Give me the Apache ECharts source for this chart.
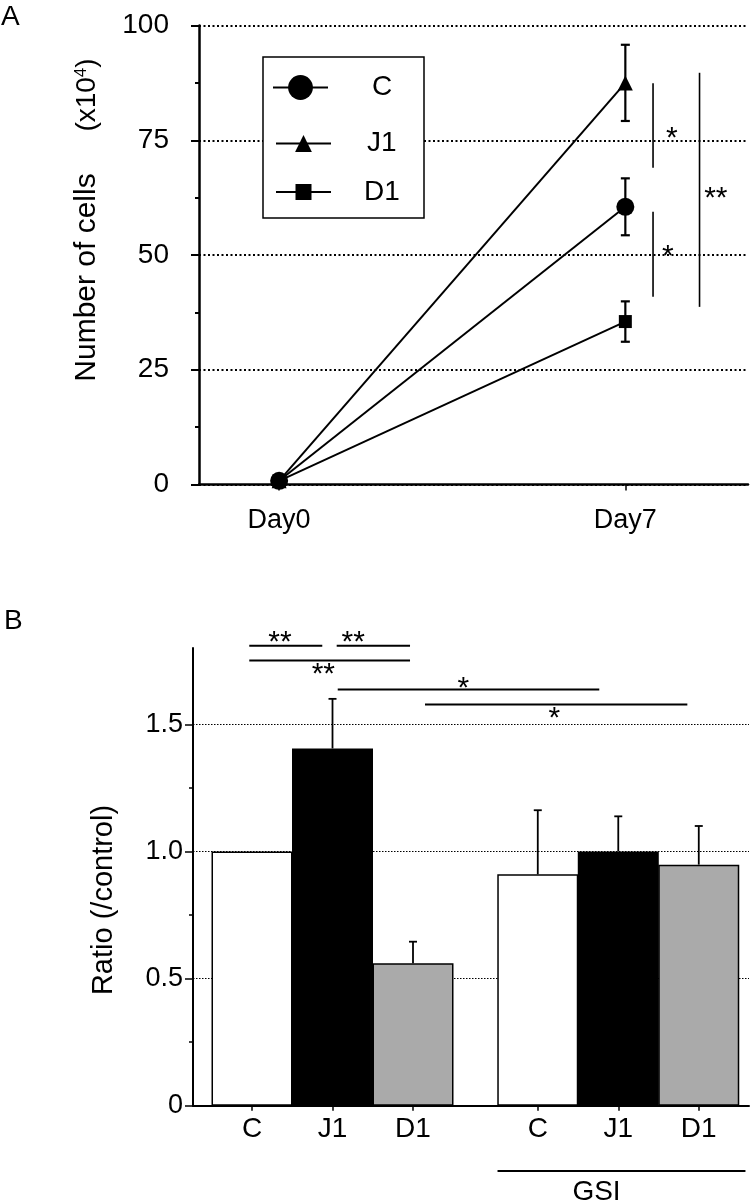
<!DOCTYPE html>
<html><head><meta charset="utf-8">
<script src="https://cdn.jsdelivr.net/npm/echarts@6/dist/echarts.min.js"></script>
<style>html,body{margin:0;padding:0;background:#fff}#c{width:750px;height:1202px}</style>
</head><body><div id="c"></div>
<script>
// ---------- Panel A data ----------
const daysA = [0, 7];
const dayLabelsA = ['Day0', 'Day7'];
const groupsA = ['C', 'J1', 'D1'];
const cellsC = [0.8, 60.5];
const cellsJ1 = [0.8, 87.5];
const cellsD1 = [0.8, 35.5];
const errC = [0, 6.2];
const errJ1 = [0, 8.3];
const errD1 = [0, 4.4];
const yTicksA = [0, 25, 50, 75, 100];

// ---------- Panel B data ----------
const barCats = ['C', 'J1', 'D1', 'C', 'J1', 'D1'];
const ratio = [1.0, 1.405, 0.56, 0.91, 1.0, 0.948];
const ratioErr = [0, 0.195, 0.085, 0.252, 0.138, 0.152];
const yTicksB = [0, 0.5, 1.0, 1.5];
const yMinorB = [0.25, 0.75, 1.25];

// ---------- significance annotations (data coordinates) ----------
const sigA = [
  { x1: 7.56, y1: 87.4, x2: 7.56, y2: 69.0, label: '*', lx: 7.94, ly: 76.9 },
  { x1: 7.56, y1: 59.4, x2: 7.56, y2: 40.9, label: '*', lx: 7.86, ly: 51.1 },
  { x1: 8.50, y1: 89.7, x2: 8.50, y2: 38.7, label: '**', lx: 8.83, ly: 63.9 }
];
const sigB = [
  { x1: 0.966, y1: 1.809, x2: 1.873, y2: 1.809, label: '**', lx: 1.348, ly: 1.849 },
  { x1: 2.052, y1: 1.809, x2: 2.963, y2: 1.809, label: '**', lx: 2.258, ly: 1.849 },
  { x1: 0.966, y1: 1.751, x2: 2.963, y2: 1.751, label: '**', lx: 1.886, ly: 1.725 },
  { x1: 2.065, y1: 1.637, x2: 5.314, y2: 1.637, label: '*', lx: 3.625, ly: 1.670 },
  { x1: 3.149, y1: 1.578, x2: 6.408, y2: 1.578, label: '*', lx: 4.755, ly: 1.552 }
];
const gsiBracket = [
  { x1: 4.05, y1: -0.257, x2: 7.13, y2: -0.257, label: 'GSI', lx: 5.28, ly: -0.342 }
];

// ---------- layout / style ----------
const FONT = '"Liberation Sans", Arial, sans-serif';
const GROUP_GAP = 0.55;
const barX = barCats.map((c, i) => i + 1 + (i >= 3 ? GROUP_GAP : 0));
const barFill = ['#ffffff', '#000000', '#aaaaaa'];
const symbolsA = ['circle', 'triangle', 'rect'];
const symSizeA = [18, 15, 13];
const legendLeft = [272, 275, 275];
const legendTop = [73.5, 129.5, 178];
const legendIconH = [31, 21, 20];
const legendPad = [39, 31, 28];

const seriesValsA = [cellsC, cellsJ1, cellsD1];
const seriesErrA = [errC, errJ1, errD1];

function annotRender(list, lw, fs) {
  return function (params, api) {
    const a = list[params.dataIndex];
    const p1 = api.coord([a.x1, a.y1]);
    const p2 = api.coord([a.x2, a.y2]);
    const children = [{
      type: 'line',
      shape: { x1: p1[0], y1: p1[1], x2: p2[0], y2: p2[1] },
      style: { stroke: '#000', lineWidth: lw }
    }];
    if (a.label) {
      const t = api.coord([a.lx, a.ly]);
      const star = a.label.indexOf('*') >= 0;
      const size = star ? fs : 28;
      children.push({
        type: 'text', x: t[0], y: t[1] + (star ? size * 0.24 : 0),
        style: { text: a.label, font: size + 'px ' + FONT, fill: '#000',
          align: 'center', verticalAlign: 'middle', textAlign: 'center', textVerticalAlign: 'middle' }
      });
    }
    return { type: 'group', children };
  };
}

function errRender(lw, cap, both) {
  return function (params, api) {
    const x = api.value(0), y = api.value(1), e = api.value(2);
    if (!e) return;
    const top = api.coord([x, y + e]);
    const bot = both ? api.coord([x, y - e]) : api.coord([x, y]);
    const ch = [
      { type: 'line', shape: { x1: top[0], y1: top[1], x2: bot[0], y2: bot[1] }, style: { stroke: '#000', lineWidth: lw } },
      { type: 'line', shape: { x1: top[0] - cap / 2, y1: top[1], x2: top[0] + cap / 2, y2: top[1] }, style: { stroke: '#000', lineWidth: lw } }
    ];
    if (both) ch.push({ type: 'line', shape: { x1: bot[0] - cap / 2, y1: bot[1], x2: bot[0] + cap / 2, y2: bot[1] }, style: { stroke: '#000', lineWidth: lw } });
    return { type: 'group', children: ch };
  };
}

const series = [];
groupsA.forEach((g, k) => {
  series.push({
    type: 'custom', name: g + ' err', xAxisIndex: 0, yAxisIndex: 0, z: 3,
    data: daysA.map((d, i) => [d, seriesValsA[k][i], seriesErrA[k][i]]),
    renderItem: errRender(2.2, 9, true), silent: true
  });
});
[1, 2, 0].forEach(k => {
  series.push({
    type: 'line', name: groupsA[k], xAxisIndex: 0, yAxisIndex: 0,
    data: daysA.map((d, i) => [d, seriesValsA[k][i]]),
    symbol: symbolsA[k], symbolSize: symSizeA[k], showSymbol: true,
    lineStyle: { color: '#000', width: 2 }, itemStyle: { color: '#000' },
    z: k === 0 ? 6 : 5, silent: true
  });
});
series.push({
  type: 'custom', name: 'sigA', xAxisIndex: 0, yAxisIndex: 0, z: 4, silent: true,
  data: sigA.map(a => [a.x1, a.y1]), renderItem: annotRender(sigA, 1.6, 30)
});
series.push({
  type: 'bar', name: 'ratio', xAxisIndex: 1, yAxisIndex: 1, barWidth: 81, silent: true,
  data: barX.map((x, i) => ({ value: [x, ratio[i]], itemStyle: { color: barFill[i % 3], borderColor: '#000', borderWidth: 1.5 } }))
});
series.push({
  type: 'custom', name: 'ratio err', xAxisIndex: 1, yAxisIndex: 1, z: 4, silent: true,
  data: barX.map((x, i) => [x, ratio[i], ratioErr[i]]), renderItem: errRender(1.8, 8, false)
});
series.push({
  type: 'custom', name: 'sigB', xAxisIndex: 1, yAxisIndex: 1, z: 4, silent: true,
  data: sigB.map(a => [a.x1, a.y1]), renderItem: annotRender(sigB, 2, 30)
});
series.push({
  type: 'custom', name: 'gsi', xAxisIndex: 1, yAxisIndex: 1, z: 4, silent: true,
  data: gsiBracket.map(a => [a.x1, a.y1]), renderItem: annotRender(gsiBracket, 2, 28)
});

const labelStyle = { color: '#000', fontFamily: FONT };

const option = {
  animation: false,
  backgroundColor: '#fff',
  grid: [
    { left: 199, right: 2, top: 25.5, height: 459 },
    { left: 193, right: 1, top: 648, height: 457.7 }
  ],
  xAxis: [
    {
      gridIndex: 0, type: 'value', min: -1.62, max: 9.48,
      axisLine: { onZero: false, lineStyle: { color: '#000', width: 2.5 } },
      axisTick: { show: true, customValues: daysA, length: 6, lineStyle: { color: '#000', width: 1.5 } },
      axisLabel: { customValues: daysA, margin: 23, fontSize: 27, ...labelStyle,
        formatter: v => dayLabelsA[daysA.indexOf(v)] || '' },
      splitLine: { show: false }
    },
    {
      gridIndex: 1, type: 'value', min: 0.267, max: 7.174,
      axisLine: { onZero: false, lineStyle: { color: '#000', width: 2 } },
      axisTick: { show: true, customValues: barX, length: 5, lineStyle: { color: '#000', width: 1.5 } },
      axisLabel: { customValues: barX, margin: 10, fontSize: 28, ...labelStyle,
        formatter: v => { let best = 0; barX.forEach((x, i) => { if (Math.abs(x - v) < Math.abs(barX[best] - v)) best = i; }); return barCats[best]; } },
      splitLine: { show: false }
    }
  ],
  yAxis: [
    {
      gridIndex: 0, type: 'value', min: 0, max: 100, interval: 25,
      axisLine: { show: true, onZero: false, lineStyle: { color: '#000', width: 2.5 } },
      axisTick: { show: true, length: 8, lineStyle: { color: '#000', width: 2 } },
      minorTick: { show: true, splitNumber: 2, length: 4, lineStyle: { color: '#000', width: 2 } },
      axisLabel: { margin: 30, fontSize: 28, ...labelStyle },
      splitLine: { show: true, lineStyle: { color: '#000', width: 2, type: [2, 2.5] } }
    },
    {
      gridIndex: 1, type: 'value', min: 0, max: 1.8, position: 'left',
      axisLine: { show: true, onZero: false, lineStyle: { color: '#000', width: 2 } },
      axisTick: { show: true, customValues: yTicksB, length: 8, lineStyle: { color: '#000', width: 1.5 } },
      axisLabel: { customValues: yTicksB, margin: 10, fontSize: 27, ...labelStyle,
        formatter: v => (v === 0 ? '0' : v.toFixed(1)) },
      splitLine: { show: true, lineStyle: { color: '#000', width: 1.2, type: [1.5, 1.5] } }
    },
    {
      gridIndex: 1, type: 'value', min: 0, max: 1.8, position: 'left',
      axisLine: { show: false, onZero: false },
      axisTick: { show: true, customValues: yMinorB, length: 4, lineStyle: { color: '#000', width: 1.5 } },
      axisLabel: { show: false },
      splitLine: { show: false }
    }
  ],
  legend: groupsA.map((g, i) => ({
    data: [g], left: legendLeft[i], top: legendTop[i], orient: 'vertical',
    itemWidth: 55, itemHeight: legendIconH[i], padding: 0, selectedMode: false, z: 10,
    formatter: '{t|' + g + '}',
    textStyle: { rich: { t: { fontSize: 28, fontFamily: FONT, color: '#000', padding: [0, 0, 0, legendPad[i]] } } }
  })),
  graphic: [
    { type: 'rect', z: 2, shape: { x: 263, y: 57, width: 161, height: 161 },
      style: { fill: '#fff', stroke: '#000', lineWidth: 1.5 } },
    { type: 'text', left: 1, top: 3, style: { text: 'A', font: '28px ' + FONT, fill: '#000' } },
    { type: 'text', left: 4, top: 607, style: { text: 'B', font: '28px ' + FONT, fill: '#000' } },
    { type: 'text', x: 87, y: 277.5, rotation: Math.PI / 2,
      style: { text: 'Number of cells', font: '30px ' + FONT, fill: '#000', align: 'center', verticalAlign: 'middle', textAlign: 'center', textVerticalAlign: 'middle' } },
    { type: 'text', x: 87, y: 95, rotation: Math.PI / 2,
      style: { text: '(x10{s|4})', font: '28px ' + FONT, fill: '#000', align: 'center', verticalAlign: 'middle', textAlign: 'center', textVerticalAlign: 'middle',
        rich: { s: { fontSize: 17, fontFamily: FONT, verticalAlign: 'top', fill: '#000', color: '#000' } } } },
    { type: 'text', x: 104, y: 900, rotation: Math.PI / 2,
      style: { text: 'Ratio (/control)', font: '29px ' + FONT, fill: '#000', align: 'center', verticalAlign: 'middle', textAlign: 'center', textVerticalAlign: 'middle' } }
  ],
  series
};

const chart = echarts.init(document.getElementById('c'), null, { renderer: 'canvas' });
chart.setOption(option);
</script>
</body></html>
